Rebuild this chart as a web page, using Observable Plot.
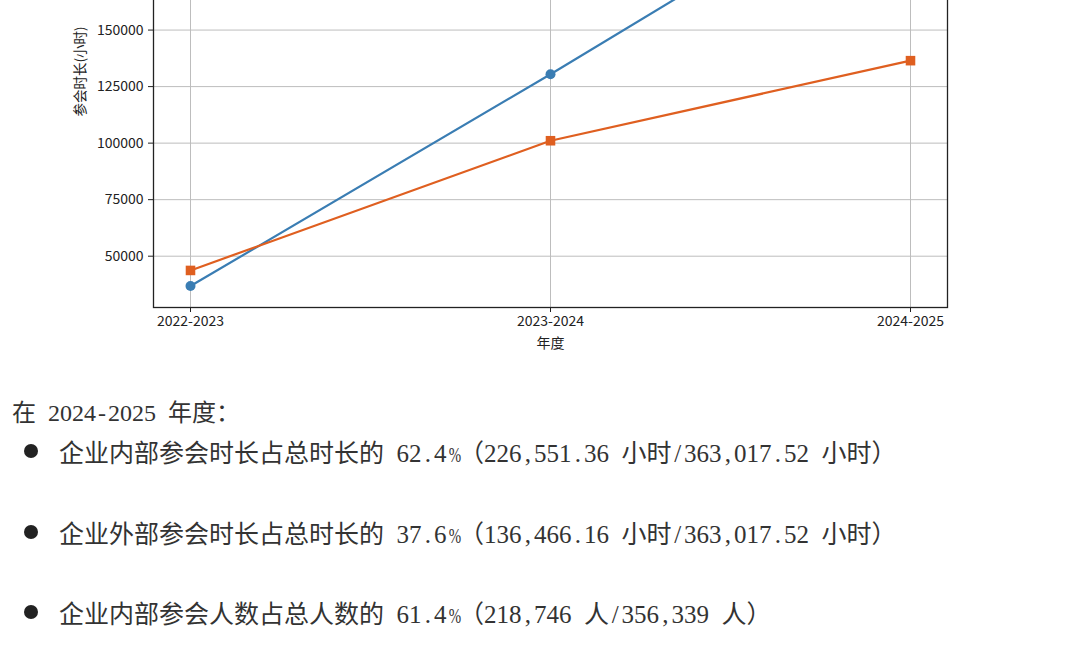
<!DOCTYPE html>
<html>
<head>
<meta charset="utf-8">
<script src="https://cdn.jsdelivr.net/npm/d3@7"></script>
<script src="https://cdn.jsdelivr.net/npm/@observablehq/plot@0.6"></script>
<style>
  html, body { margin: 0; padding: 0; background: #fff; }
  body { width: 1080px; height: 669px; overflow: hidden; position: relative; }
  #chart { position: absolute; left: 0; top: -175.3px; }
  .t { position: absolute; white-space: nowrap; font-family: "Noto Sans CJK SC", sans-serif; color: #333; line-height: 30px; }
  .a { font-family: "Liberation Serif", serif; }
  .h { display: inline-block; width: 0.5em; text-align: center; }
  .n { font-size: 0.85em; width: 0.588em; transform: scaleX(0.7); }
  .bullet { position: absolute; width: 14px; height: 14px; border-radius: 50%; background: #222; }
</style>
</head>
<body>
<div id="chart"></div>
<div id="notes"></div>
<script>
// ---- data ----
const years = ["2022-2023", "2023-2024", "2024-2025"];
const internalHours = [36800, 130450, 226551.36];
const externalHours = [43700, 101060, 136466.16];
const yTicks = [50000, 75000, 100000, 125000, 150000];
const yLabel = "参会时长(小时)";
const xLabel = "年度";
const header = "在 2024-2025 年度：";
const bullets = [
  "企业内部参会时长占总时长的 62.4%（226,551.36 小时/363,017.52 小时）",
  "企业外部参会时长占总时长的 37.6%（136,466.16 小时/363,017.52 小时）",
  "企业内部参会人数占总人数的 61.4%（218,746 人/356,339 人）"
];

const blue = "#3a7db3";
const orange = "#df5f20";

const internal = years.map((y, i) => ({year: y, v: internalHours[i]}));
const external = years.map((y, i) => ({year: y, v: externalHours[i]}));
const all = internalHours.concat(externalHours);
const lo = d3.min(all), hi = d3.max(all), pad = (hi - lo) * 0.05;

const chart = Plot.plot({
  width: 1080,
  height: 532,
  marginLeft: 153,
  marginRight: 133,
  marginTop: 10,
  marginBottom: 50,
  style: {fontFamily: "'Noto Sans CJK SC', sans-serif", fontSize: "14px", color: "#222", background: "transparent", overflow: "visible"},
  x: {type: "point", domain: years, padding: 0.1, label: null},
  y: {domain: [lo - pad, hi + pad], label: null},
  marks: [
    Plot.gridX(years, {stroke: "#bdbdbd", strokeOpacity: 1, strokeWidth: 1}),
    Plot.gridY(yTicks, {stroke: "#bdbdbd", strokeOpacity: 1, strokeWidth: 1}),
    Plot.axisX(years, {tickSize: 5, tickPadding: 4, label: null, stroke: "#222"}),
    Plot.axisY(yTicks, {tickSize: 5, tickPadding: 5, tickFormat: d => String(d), label: null, stroke: "#222"}),
    Plot.frame({stroke: "#222", strokeWidth: 1.3}),
    Plot.line(internal, {x: "year", y: "v", stroke: blue, strokeWidth: 2.2}),
    Plot.dot(internal, {x: "year", y: "v", symbol: "circle", r: 5, fill: blue}),
    Plot.line(external, {x: "year", y: "v", stroke: orange, strokeWidth: 2.2}),
    Plot.dot(external, {x: "year", y: "v", symbol: "square", r: 5.4, fill: orange}),
    Plot.text([yLabel], {frameAnchor: "left", textAnchor: "middle", lineAnchor: "middle", rotate: -90, dx: -73, fontSize: 13.5, fill: "#222"}),
    Plot.text([xLabel], {frameAnchor: "bottom", textAnchor: "middle", lineAnchor: "middle", dy: 36, fontSize: 14, fill: "#222"})
  ]
});
document.getElementById("chart").appendChild(chart);

// ---- notes below the chart ----
function mixed(str) {
  // ASCII characters are half-width (0.5em), CJK full-width, as in the source document
  return [...str].map(c => c.charCodeAt(0) < 128
    ? `<span class="a h${c === "%" ? " n" : ""}">${c === " " ? "&nbsp;" : c}</span>`
    : c).join("");
}
const notes = document.getElementById("notes");
const hdr = document.createElement("div");
hdr.className = "t";
hdr.style.cssText = "left:12px; top:396px; font-size:24px;";
hdr.innerHTML = mixed(header);
notes.appendChild(hdr);
const tops = [436, 516.5, 596.5];
bullets.forEach((s, i) => {
  const b = document.createElement("div");
  b.className = "bullet";
  b.style.left = "24px";
  b.style.top = (tops[i] + 15 - 7) + "px";
  notes.appendChild(b);
  const d = document.createElement("div");
  d.className = "t";
  d.style.cssText = `left:59px; top:${tops[i]}px; font-size:25px;`;
  d.innerHTML = mixed(s);
  notes.appendChild(d);
});
</script>
</body>
</html>
